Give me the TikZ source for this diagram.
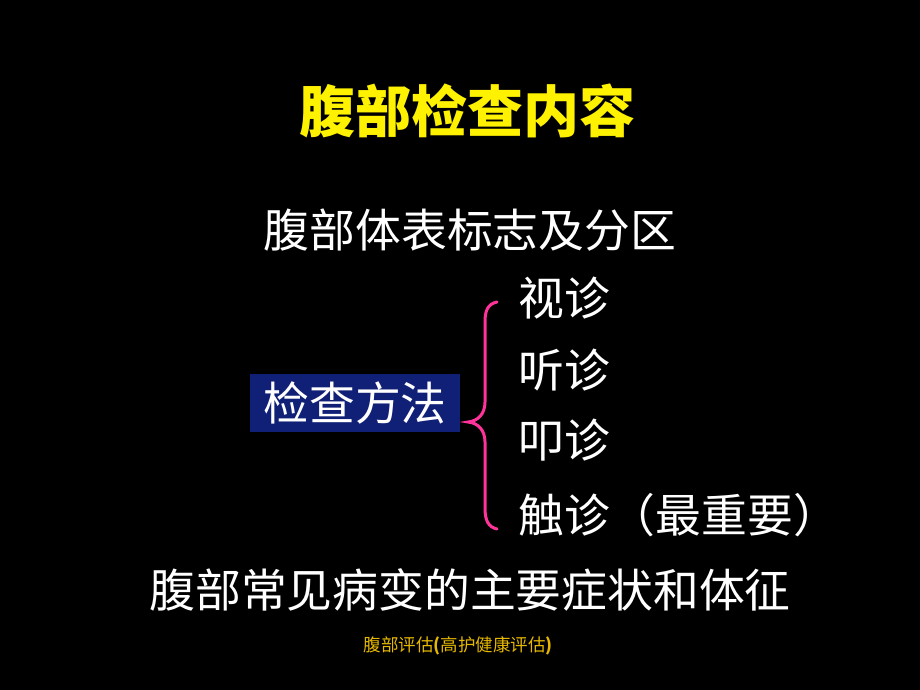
\documentclass[tikz,border=0pt]{standalone}
\usepackage{fontspec}
\newfontfamily\cjk{Noto Sans CJK SC}
\definecolor{navybox}{RGB}{16,32,118}
\definecolor{bracepink}{RGB}{255,51,153}
\definecolor{footgold}{RGB}{230,184,0}
\begin{document}
\begin{tikzpicture}[x=1pt,y=-1pt,
  txt/.style={inner sep=0pt,text=white,font=\cjk\fontsize{45.8}{50}\selectfont},
  item/.style={txt,anchor=base west}]
\fill[black] (0,0) rectangle (920,690);
\useasboundingbox (0,0) rectangle (920,690);
\node[inner sep=0pt,anchor=base,text=yellow,font=\cjk\bfseries\fontsize{56}{60}\selectfont] (title) at (467,132) {腹部检查内容};
\node[txt,anchor=base] (zone) at (470,247) {腹部体表标志及分区};
\fill[navybox] (250,374) rectangle (460,432);
\node[txt,anchor=base] (method) at (355,420) {检查方法};
\node[item] (m1) at (518,315) {视诊};
\node[item] (m2) at (518,387) {听诊};
\node[item] (m3) at (518,457) {叩诊};
\node[item] (m4) at (518,532) {触诊（最重要）};
\node[txt,anchor=base] (signs) at (470,607) {腹部常见病变的主要症状和体征};
\node[inner sep=0pt,anchor=base,text=footgold,font=\cjk\fontsize{17.5}{20}\selectfont] (foot) at (458,651) {腹部评估\textbf{(}高护健康评估\textbf{)}};
\draw[bracepink,line width=3pt,line cap=round]
  (497,302) .. controls (487,304) and (485,312) .. (485,322)
  -- (485,402) .. controls (485,414) and (478,421) .. (468,422)
  .. controls (478,423) and (485,430) .. (485,442)
  -- (485,508) .. controls (485,520) and (488,527) .. (497,529);
\end{tikzpicture}
\end{document}
